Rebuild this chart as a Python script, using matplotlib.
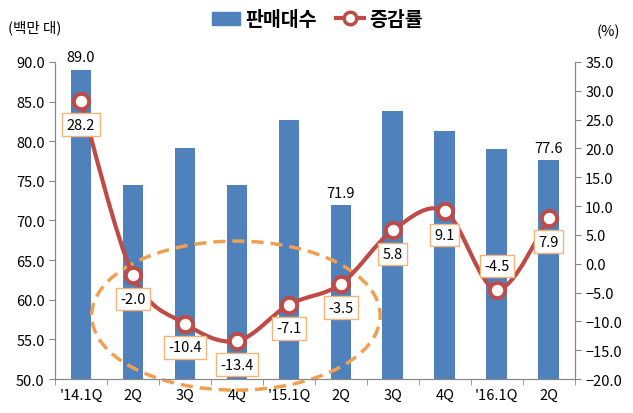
import numpy as np
import matplotlib.pyplot as plt
from matplotlib.path import Path
from matplotlib.patches import PathPatch, Ellipse, Rectangle
from matplotlib.lines import Line2D

plt.rcParams['font.family'] = ['Noto Sans CJK KR', 'DejaVu Sans']

# data
quarters = ["'14.1Q", '2Q', '3Q', '4Q', "'15.1Q", '2Q', '3Q', '4Q', "'16.1Q", '2Q']
sales = [89.0, 74.5, 79.1, 74.5, 82.7, 71.9, 83.8, 81.3, 79.0, 77.6]
growth = [28.2, -2.0, -10.4, -13.4, -7.1, -3.5, 5.8, 9.1, -4.5, 7.9]
sales_labeled = [0, 5, 9]
growth_above = [8]

BLUE = '#4F81BD'
RED = '#BE4B48'
ORANGE = '#F0A050'
AXC = '#888888'

fig = plt.figure(figsize=(6.33, 4.14), dpi=100)
ax = fig.add_axes([0.087, 0.082, 0.821, 0.766])
ax2 = ax.twinx()

x = np.arange(len(quarters))
ax.bar(x, sales, width=0.4, color=BLUE, zorder=2)
for i in sales_labeled:
    ax.annotate(f'{sales[i]:.1f}', (x[i], sales[i]), xytext=(0, 4),
                textcoords='offset points', ha='center', va='bottom', fontsize=10.5)

ax.set_xlim(-0.5, len(quarters) - 0.5)
ax.set_ylim(50, 90)
ax.set_yticks(np.arange(50, 90.1, 5))
ax.set_yticklabels([f'{v:.1f}' for v in np.arange(50, 90.1, 5)], fontsize=10.5)
ax.set_xticks(x)
ax.set_xticklabels(quarters, fontsize=10.5)
ax.set_xticks(np.arange(-0.5, len(quarters), 1), minor=True)
ax.tick_params(axis='x', which='major', length=0, pad=6)
ax.tick_params(axis='x', which='minor', length=4, color=AXC, direction='out')
ax.tick_params(axis='y', length=4, color=AXC)

ax2.set_ylim(-20, 35)
ax2.set_yticks(np.arange(-20, 35.1, 5))
ax2.set_yticklabels([f'{v:.1f}'.replace('-', '\u2212') for v in np.arange(-20, 35.1, 5)], fontsize=10.5)
ax2.tick_params(axis='y', length=4, color=AXC)

for a in (ax, ax2):
    a.spines['top'].set_visible(False)
    for s in ('left', 'right', 'bottom'):
        a.spines[s].set_color(AXC)

# smoothed line through the growth points (Bezier segments)
pts = np.column_stack([x, growth]).astype(float)
verts = [tuple(pts[0])]
codes = [Path.MOVETO]
n = len(pts)
for i in range(n - 1):
    p0 = pts[max(i - 1, 0)]
    p1 = pts[i]
    p2 = pts[i + 1]
    p3 = pts[min(i + 2, n - 1)]
    c1 = p1 + (p2 - p0) / 6.0
    c2 = p2 - (p3 - p1) / 6.0
    verts += [tuple(c1), tuple(c2), tuple(p2)]
    codes += [Path.CURVE4] * 3
ax2.add_patch(PathPatch(Path(verts, codes), fill=False, edgecolor=RED, lw=3, zorder=3))
ax2.plot(x, growth, ls='none', marker='o', ms=11, mfc='white', mec=RED, mew=2.8, zorder=4)

for i, v in enumerate(growth):
    off = 17 if i in growth_above else -17
    ax2.annotate(f'{v:.1f}', (x[i], v), xytext=(0, off), textcoords='offset points',
                 ha='center', va='center', fontsize=10.5, zorder=6,
                 bbox=dict(boxstyle='square,pad=0.3', fc='white', ec='#F2B47A', lw=1))

# dashed ellipse highlighting the dip
ax.add_patch(Ellipse((2.98, 58.0), 5.55, 18.8, fill=False, ls=(0, (3.5, 2)),
                     edgecolor=ORANGE, lw=2.5, clip_on=False, zorder=5))

# header texts and legend
fig.text(0.012, 0.932, '(백만 대)', fontsize=10.5, ha='left', va='center')
fig.text(0.942, 0.922, '(%)', fontsize=10.5, ha='left', va='center')
handles = [Rectangle((0, 0), 1, 1, color=BLUE),
           Line2D([], [], color=RED, lw=3, marker='o', ms=9, mfc='white', mec=RED, mew=2.5)]
fig.legend(handles, ['판매대수', '증감률'], loc='center', bbox_to_anchor=(0.502, 0.95),
           ncol=2, frameon=False, prop={'size': 14, 'weight': 'bold'},
           handlelength=1.4, handletextpad=0.3, columnspacing=1.0)

fig.savefig('out.png', dpi=100)
